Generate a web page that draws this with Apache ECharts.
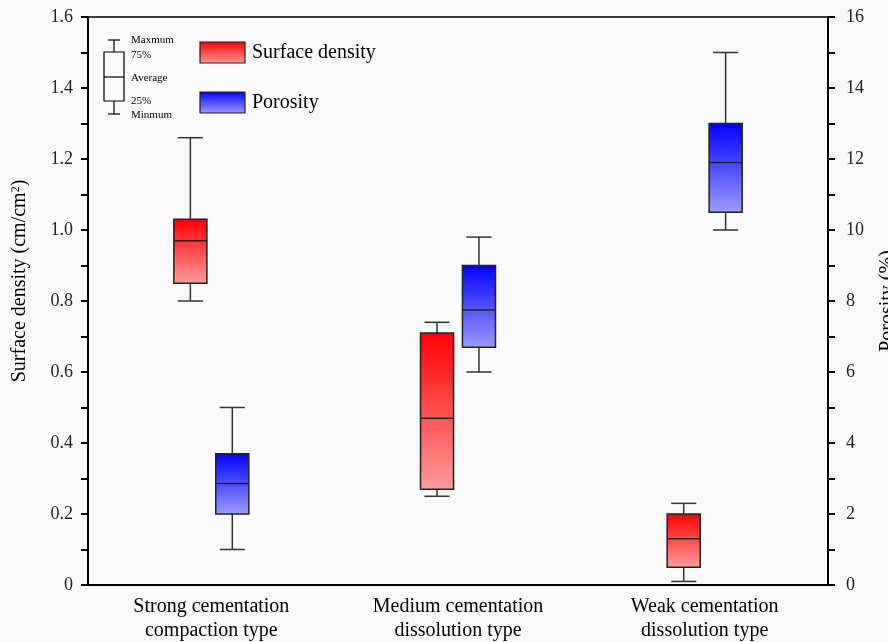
<!DOCTYPE html>
<html>
<head>
<meta charset="utf-8">
<script src="https://cdn.jsdelivr.net/npm/echarts@6/dist/echarts.min.js"></script>
<style>html,body{margin:0;padding:0;background:#fafafa;}#c{width:888px;height:642px;}</style>
</head>
<body>
<div id="c"></div>
<script>
// Categories
const categories = ['Strong cementation\ncompaction type', 'Medium cementation\ndissolution type', 'Weak cementation\ndissolution type'];
// Box stats per category: [min, Q1, average, Q3, max]
const surfaceDensity = [
  [0.80, 0.85, 0.97, 1.03, 1.26],
  [0.25, 0.27, 0.47, 0.71, 0.74],
  [0.01, 0.05, 0.13, 0.20, 0.23]
];
const porosity = [
  [1.0, 2.0, 2.86, 3.7, 5.0],
  [6.0, 6.7, 7.75, 9.0, 9.8],
  [10.0, 10.5, 11.9, 13.0, 15.0]
];
const leftTicks = {min: 0, max: 1.6, interval: 0.2};
const rightTicks = {min: 0, max: 16, interval: 2};

const serif = 'Liberation Serif';
const tickFont = 'Liberation Serif';

function grad(top, bottom) {
  return new echarts.graphic.LinearGradient(0, 0, 0, 1, [
    {offset: 0, color: top}, {offset: 1, color: bottom}
  ]);
}
const redGrad = () => grad('#ff0000', '#ff9c9c');
const blueGrad = () => grad('#0000ff', '#9c9cff');

function makeRender(offsetFrac, fillFn) {
  return function (params, api) {
    const idx = api.value(0);
    const band = api.size([1, 0])[0];
    const cx = api.coord([idx, 0])[0] + offsetFrac * band;
    const w = 0.134 * band;
    const capW = 0.76 * w;
    const y = [1, 2, 3, 4, 5].map(d => api.coord([idx, api.value(d)])[1]);
    const lineStyle = {stroke: '#333', lineWidth: 1.5};
    return {
      type: 'group',
      children: [
        {type: 'line', shape: {x1: cx, y1: y[0], x2: cx, y2: y[1]}, style: lineStyle},
        {type: 'line', shape: {x1: cx, y1: y[3], x2: cx, y2: y[4]}, style: lineStyle},
        {type: 'line', shape: {x1: cx - capW / 2, y1: y[0], x2: cx + capW / 2, y2: y[0]}, style: lineStyle},
        {type: 'line', shape: {x1: cx - capW / 2, y1: y[4], x2: cx + capW / 2, y2: y[4]}, style: lineStyle},
        {type: 'rect', shape: {x: cx - w / 2, y: y[3], width: w, height: y[1] - y[3]},
          style: {fill: fillFn(), stroke: '#222', lineWidth: 1.5}},
        {type: 'line', shape: {x1: cx - w / 2, y1: y[2], x2: cx + w / 2, y2: y[2]}, style: {stroke: '#222', lineWidth: 1.5}}
      ]
    };
  };
}

const redData = surfaceDensity.map((s, i) => [i].concat(s));
const blueData = porosity.map((s, i) => [i].concat(s));

const chart = echarts.init(document.getElementById('c'), null, {renderer: 'canvas'});

const legendX = 200;
const option = {
  backgroundColor: '#fafafa',
  animation: false,
  grid: {left: 88, right: 60, top: 17, bottom: 57, containLabel: false, outerBoundsMode: 'none',
    show: true, borderColor: '#000', borderWidth: 1.5, backgroundColor: 'transparent'},
  xAxis: {
    type: 'category',
    data: categories,
    axisLine: {lineStyle: {color: '#000', width: 2}},
    axisTick: {alignWithLabel: true, length: 8, lineStyle: {color: '#000', width: 2}},
    axisLabel: {color: '#000', fontFamily: serif, fontSize: 20, lineHeight: 24, margin: 10}
  },
  yAxis: [
    {
      type: 'value', min: leftTicks.min, max: leftTicks.max, interval: leftTicks.interval,
      name: 'Surface density (cm/cm{sup|2})', nameLocation: 'middle', nameGap: 58, nameRotate: 90,
      nameTextStyle: {color: '#000', fontFamily: serif, fontSize: 20, padding: [0, 0, 0, 40],
        rich: {sup: {fontFamily: serif, fontSize: 12, verticalAlign: 'top', padding: [0, 0, 8, 0]}}},
      axisLine: {show: true, lineStyle: {color: '#000', width: 2}},
      axisTick: {show: true, length: 7, lineStyle: {color: '#000', width: 2}},
      minorTick: {show: true, splitNumber: 2, length: 7, lineStyle: {color: '#000', width: 2}},
      splitLine: {show: false},
      axisLabel: {color: '#222', fontFamily: tickFont, fontSize: 18, margin: 15,
        formatter: v => v === 0 ? '0' : v.toFixed(1)}
    },
    {
      type: 'value', min: rightTicks.min, max: rightTicks.max, interval: rightTicks.interval,
      position: 'right',
      name: 'Porosity (%)', nameLocation: 'middle', nameGap: 50, nameRotate: 90,
      nameTextStyle: {color: '#000', fontFamily: serif, fontSize: 20},
      axisLine: {show: true, lineStyle: {color: '#000', width: 2}},
      axisTick: {show: true, length: 7, lineStyle: {color: '#000', width: 2}},
      minorTick: {show: true, splitNumber: 2, length: 7, lineStyle: {color: '#000', width: 2}},
      splitLine: {show: false},
      axisLabel: {color: '#222', fontFamily: tickFont, fontSize: 18, margin: 18}
    }
  ],
  series: [
    {
      name: 'Surface density', type: 'custom', xAxisIndex: 0, yAxisIndex: 0,
      renderItem: makeRender(-0.085, redGrad),
      encode: {x: 0, y: [1, 2, 3, 4, 5]},
      data: redData
    },
    {
      name: 'Porosity', type: 'custom', xAxisIndex: 0, yAxisIndex: 1,
      renderItem: makeRender(0.085, blueGrad),
      encode: {x: 0, y: [1, 2, 3, 4, 5]},
      data: blueData
    }
  ],
  graphic: [
    // box legend icon
    {type: 'line', shape: {x1: 108, y1: 40, x2: 120, y2: 40}, style: {stroke: '#000', lineWidth: 1.2}},
    {type: 'line', shape: {x1: 114, y1: 40, x2: 114, y2: 52}, style: {stroke: '#000', lineWidth: 1.2}},
    {type: 'rect', shape: {x: 104, y: 52, width: 20, height: 49}, style: {fill: 'none', stroke: '#000', lineWidth: 1.2}},
    {type: 'line', shape: {x1: 104, y1: 77, x2: 124, y2: 77}, style: {stroke: '#000', lineWidth: 1.2}},
    {type: 'line', shape: {x1: 114, y1: 101, x2: 114, y2: 114}, style: {stroke: '#000', lineWidth: 1.2}},
    {type: 'line', shape: {x1: 108, y1: 114, x2: 120, y2: 114}, style: {stroke: '#000', lineWidth: 1.2}},
    {type: 'text', x: 131, y: 40, style: {text: 'Maxmum', font: '11px "Liberation Serif"', fill: '#000', textVerticalAlign: 'middle'}},
    {type: 'text', x: 131, y: 55, style: {text: '75%', font: '11px "Liberation Serif"', fill: '#000', textVerticalAlign: 'middle'}},
    {type: 'text', x: 131, y: 78, style: {text: 'Average', font: '11px "Liberation Serif"', fill: '#000', textVerticalAlign: 'middle'}},
    {type: 'text', x: 131, y: 101, style: {text: '25%', font: '11px "Liberation Serif"', fill: '#000', textVerticalAlign: 'middle'}},
    {type: 'text', x: 131, y: 115, style: {text: 'Minmum', font: '11px "Liberation Serif"', fill: '#000', textVerticalAlign: 'middle'}},
    // series legend
    {type: 'rect', shape: {x: legendX, y: 42, width: 45, height: 21}, style: {fill: redGrad(), stroke: '#222', lineWidth: 1.2}},
    {type: 'text', x: 252, y: 53, style: {text: 'Surface density', font: '20px "Liberation Serif"', fill: '#000', textVerticalAlign: 'middle'}},
    {type: 'rect', shape: {x: legendX, y: 92, width: 45, height: 21}, style: {fill: blueGrad(), stroke: '#222', lineWidth: 1.2}},
    {type: 'text', x: 252, y: 103, style: {text: 'Porosity', font: '20px "Liberation Serif"', fill: '#000', textVerticalAlign: 'middle'}}
  ]
};
chart.setOption(option);
</script>
</body>
</html>
